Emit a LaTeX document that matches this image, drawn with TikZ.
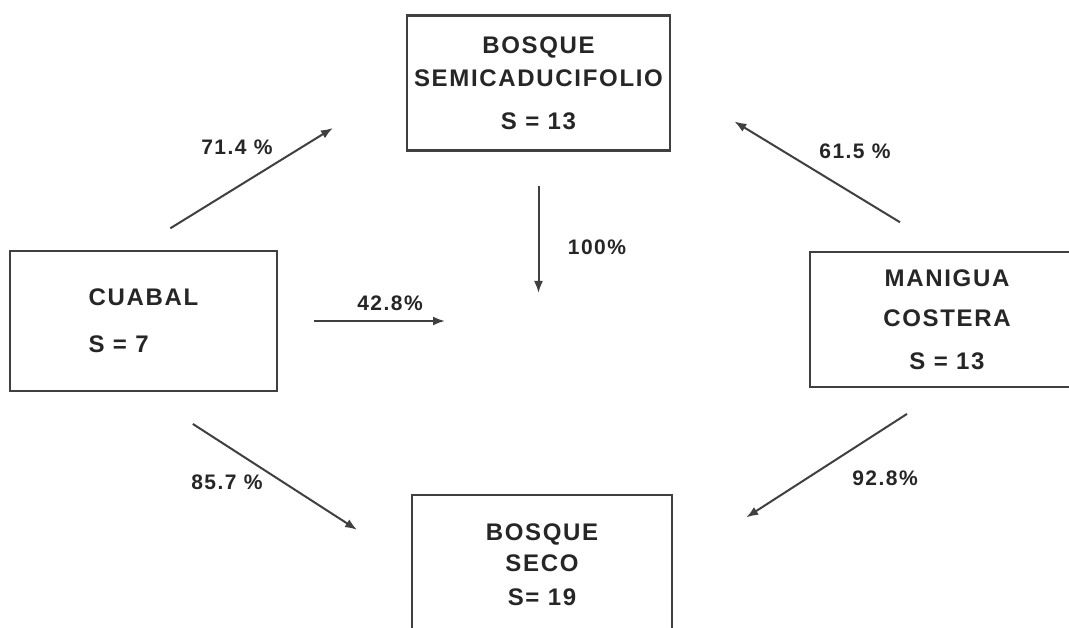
\documentclass[tikz,border=0pt]{standalone}
\usepackage{fontspec}
\setmainfont{Liberation Sans}[LetterSpace=7]
\usetikzlibrary{arrows.meta, positioning, calc}

\begin{document}
\begin{tikzpicture}[
      x=1pt, y=-1pt,
      every node/.style={align=center, text=black!85, font=\fontsize{24}{28.8}\selectfont\bfseries},
      zone/.style={draw=black!75, line width=2.3pt, inner sep=0pt},
      rate/.style={inner sep=0pt, font=\fontsize{21}{25}\selectfont\bfseries},
      arrow/.style={-{Latex[length=12pt, width=9pt]}, line width=2pt, draw=black!75}
    ]
      \fill[white] (0,0) rectangle (1069,628);
      \useasboundingbox (0,0) rectangle (1069,628);
      \clip (0,0) rectangle (1069,628);

      % Top: semideciduous forest
      \node (semi) [zone, minimum width=263pt, minimum height=135pt] at (538.5,83) {%
        BOSQUE\\[4.2pt]
        SEMICADUCIFOLIO\\[14.2pt]
        S = 13
      };

      % Left: cuabal
      \node (cuabal) [zone, align=left, minimum width=267pt, minimum height=140pt] at (143.5,321) {%
        CUABAL\\[18.2pt]
        S = 7
      };

      % Right: coastal thicket
      \node (manigua) [zone, minimum width=274pt, minimum height=135pt] at (947,319.5) {%
        MANIGUA\\[11.2pt]
        COSTERA\\[14.2pt]
        S = 13
      };

      % Bottom: dry forest
      \node (seco) [zone, minimum width=260pt, minimum height=139pt] at (542,564.5) {%
        BOSQUE\\[2.2pt]
        SECO\\[5.2pt]
        S= 19
      };

      \coordinate (mid) at (semi.south |- cuabal.east);

      % Connectors
      \draw[arrow, shorten <=31.5pt, shorten >=85.7pt] ([yshift=5pt]cuabal.north) -- (semi.west);
      \draw[arrow, shorten <=34.5pt, shorten >=28pt] (semi.south) -- (mid);
      \draw[arrow, shorten <=36pt, shorten >=93.5pt] (cuabal.east) -- (mid);
      \draw[arrow, shorten <=58.7pt, shorten >=64pt] (cuabal.south) -- (seco.west);
      \draw[arrow, shorten <=55pt, shorten >=74pt] (manigua.north) -- (semi.east);
      \draw[arrow, shorten <=47.6pt, shorten >=86.9pt] (manigua.south) -- (seco.east);

      % Percentages
      \node (p714) [rate] at (237,147) {71.4 \%};
      \node (p100) [rate] at (597,247) {100\%};
      \node (p428) [rate] at (390,303) {42.8\%};
      \node (p857) [rate] at (227,482) {85.7 \%};
      \node (p615) [rate] at (855,151) {61.5 \%};
      \node (p928) [rate] at (885,478) {92.8\%};
    \end{tikzpicture}
\end{document}
